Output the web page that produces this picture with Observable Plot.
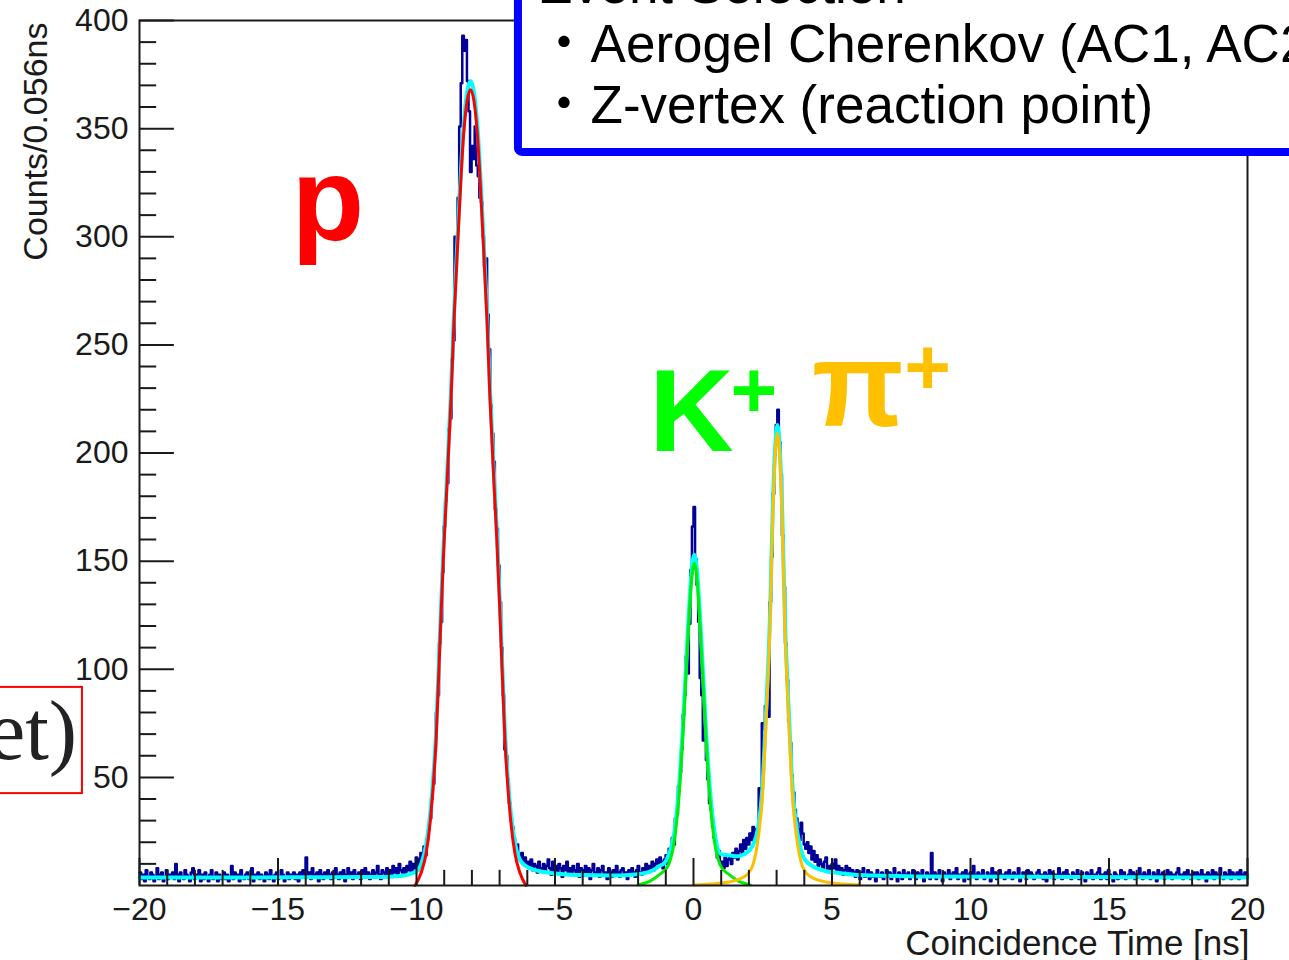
<!DOCTYPE html>
<html>
<head>
<meta charset="utf-8">
<script src="https://cdn.jsdelivr.net/npm/d3@7"></script>
<script src="https://cdn.jsdelivr.net/npm/@observablehq/plot@0.6"></script>
<style>
html, body { margin: 0; padding: 0; background: #fff; overflow: hidden; }
#chart svg { display: block; }
</style>
</head>
<body>
<div id="chart"></div>
<script>
// ---------------- data ----------------
const xRange = [-20, 20];
const yRange = [0, 400];

// histogram counts per 0.056 ns bin (714 bins from -20 to 20)
const bgLeft = [
  6, 3, 5, 2, 7, 4, 3, 6, 5, 2, 4, 8, 3, 5, 6, 2, 4, 7, 3, 5,
  4, 6, 3, 10, 5, 2, 6, 4, 3, 7, 5, 4, 2, 6, 8, 3, 5, 4, 7, 2,
  5, 3, 6, 4, 2, 5, 7, 3, 4, 6, 2, 5, 3, 4, 6, 3, 5, 2, 4, 9,
  3, 6, 4, 5, 2, 7, 4, 3, 5, 6, 3, 4, 8, 2, 5, 4, 6, 3, 5, 4,
  2, 6, 5, 3, 7, 4, 2, 5, 6, 3, 4, 7, 5, 2, 4, 6, 3, 5, 4, 6,
  3, 5, 2, 6, 4, 7, 5, 13, 4, 6, 3, 8, 5, 4, 6, 2, 7, 5, 3, 6,
  4, 7, 5, 3, 6, 4, 8, 5, 3, 6, 4, 7, 2, 5, 8, 4, 6, 3, 7, 5,
  4, 6, 3, 7, 5, 8, 4, 6, 3, 5, 7, 4, 6, 9, 5, 3, 7, 6, 4, 8,
  5, 7, 4, 9, 6, 8, 5, 10, 7, 6
];
const protonPeak = [
  8, 5, 9, 7, 11, 6, 10, 8, 13, 7,
  12, 15, 11, 18, 14, 21, 26, 31, 40, 47,
  62, 80, 88, 112, 122, 145, 166, 178, 186, 211,
  216, 243, 252, 300, 296, 318, 351, 371, 393, 386,
  391, 372, 358, 330, 342, 336, 351, 333, 328, 318,
  316, 300, 286, 290, 264, 248, 222, 209, 196, 174,
  165, 148, 131, 110, 88, 63, 60, 49, 38, 31,
  27, 22, 17, 19, 14, 12, 15, 10, 13, 9,
  11, 8, 12, 7, 10, 9, 6, 11, 8
];
const bgMiddle = [
  7, 10, 6, 9, 12, 8, 5, 11, 7, 9, 6, 10, 8, 4, 9, 7, 11, 6, 8, 5,
  9, 7, 6, 10, 4, 8, 7, 5, 9, 6, 8, 3, 7, 10, 5, 6, 8, 4, 7, 9,
  5, 6, 3, 8, 6, 4, 7, 5, 9, 6, 4, 7, 8, 5, 6, 3, 7, 5, 8, 6,
  4, 7, 9, 6, 5, 8, 7, 10, 6, 9, 8, 11, 7, 10, 12, 9, 13
];
const kaonPeak = [
  11, 8, 12, 14, 10, 17, 15, 22, 19, 31,
  33, 46, 52, 63, 79, 88, 106, 98, 121, 146,
  166, 175, 151, 139, 122, 96, 88, 67, 71, 58,
  49, 38, 35, 27, 22, 18, 13, 16, 10
];
const gapKPi = [11, 8, 13, 9, 12, 14, 10, 15, 13, 17, 12, 16, 19, 15, 21, 17, 22, 19, 24, 21, 27];
const pionPeak = [
  21, 26, 24, 45, 41, 75, 72, 83, 86, 78,
  131, 152, 181, 199, 213, 220, 205, 190, 162, 138,
  112, 95, 76, 66, 51, 43, 35, 31, 26, 21,
  29, 24, 19
];
const pionTail = [17, 20, 15, 18, 12, 16, 11, 14, 9, 12, 10, 8, 11, 13, 7, 9, 6, 10, 8, 12, 7, 9, 6, 8, 5, 7, 9, 6, 8, 5, 7];
const bgRight = [
  6, 4, 7, 5, 3, 6, 8, 4, 5, 7, 3, 6, 4, 5, 2, 7, 5, 4, 6, 3,
  5, 7, 4, 6, 3, 5, 8, 4, 2, 6, 5, 3, 7, 4, 5, 6, 3, 4, 7, 5,
  3, 6, 4, 5, 7, 2, 4, 6, 5, 3, 15, 4, 6, 3, 5, 7, 4, 2, 6, 5,
  4, 7, 3, 5, 6, 4, 8, 3, 5, 4, 6, 2, 7, 5, 3, 6, 4, 9, 5, 3,
  6, 4, 5, 7, 3, 4, 6, 5, 2, 8, 4, 6, 3, 5, 7, 4, 5, 3, 6, 4,
  7, 5, 3, 6, 4, 5, 8, 2, 4, 6, 5, 3, 7, 4, 6, 5, 3, 4, 6, 7,
  4, 5, 3, 6, 2, 5, 7, 4, 6, 3, 5, 4, 8, 5, 3, 6, 4, 7, 5, 4,
  3, 6, 5, 4, 7, 3, 5, 6, 4, 2, 6, 5, 4, 7, 3, 5, 4, 6, 8, 3,
  5, 4, 6, 3, 7, 5, 4, 2, 6, 5, 3, 4, 7, 5, 6, 3, 4, 5, 7, 4,
  6, 3, 5, 4, 8, 5, 3, 6, 4, 5, 7, 3, 4, 6, 5, 2, 7, 4, 5, 6,
  3, 5, 7, 4, 6, 3, 5, 4, 6, 8, 4, 5, 3, 6, 4, 7, 5, 3, 5, 6,
  4, 6, 3, 5, 7, 4, 5, 2, 6, 4, 5, 7, 3, 6, 4, 5, 8, 4, 3, 6,
  5, 4, 7, 3, 6, 5, 4, 6, 3, 7, 5, 4, 6, 5
];

// fit curves, points
const protonFitX = [-10.05, -9.83, -9.65, -9.5, -9.29, -9.13, -9.0, -8.92, -8.75, -8.65, -8.5, -8.3, -8.05, -7.8, -7.6, -7.45, -7.35, -7.18, -7.1, -6.97, -6.81, -6.6, -6.45, -6.27, -6.05];
const protonFitY = [0, 6, 15, 30, 68, 120, 160, 180, 226, 260, 300, 347, 368, 347, 300, 260, 226, 180, 160, 120, 68, 30, 15, 6, 0];
const kaonFitX = [-2.0, -1.57, -1.23, -0.935, -0.655, -0.535, -0.38, -0.19, -0.07, 0.03, 0.13, 0.25, 0.44, 0.595, 0.715, 0.995, 1.29, 1.63, 2.05];
const kaonFitY = [0.3, 2, 5, 8.7, 24.3, 39.5, 70, 117, 141, 149, 141, 117, 70, 39.5, 24.3, 8.7, 5, 2, 0.3];
const pionFitX = [0.0, 1.23, 1.83, 2.12, 2.36, 2.48, 2.6, 2.765, 2.86, 2.95, 3.03, 3.11, 3.2, 3.295, 3.46, 3.58, 3.7, 3.94, 4.23, 4.83, 6.0];
const pionFitY = [0.2, 1.5, 4, 8.7, 24.3, 39.5, 70.5, 122, 170, 199, 209, 199, 170, 122, 70.5, 39.5, 24.3, 8.7, 4, 1.5, 0.2];
const totalFitX = [-20, -17, -14, -12, -11, -10.5, -10.2, -10.0, -9.83, -9.65, -9.5, -9.29, -9.13, -9.0, -8.92, -8.75, -8.65, -8.5, -8.3, -8.05, -7.8, -7.6, -7.45, -7.35, -7.18, -7.1, -6.97, -6.81, -6.6, -6.45, -6.27, -6.05, -5.8, -5.5, -5.0, -4.0, -3.0, -2.2, -1.57, -1.23, -1.05, -0.935, -0.655, -0.535, -0.38, -0.19, -0.07, 0.03, 0.13, 0.25, 0.44, 0.595, 0.715, 0.995, 1.29, 1.6, 1.83, 2.12, 2.36, 2.48, 2.6, 2.765, 2.86, 2.95, 3.03, 3.11, 3.2, 3.295, 3.46, 3.58, 3.7, 3.94, 4.05, 4.23, 4.83, 5.25, 6.0, 8.0, 12.0, 16.0, 20.0];
const totalFitY = [3.7, 3.7, 3.8, 3.9, 4.1, 4.5, 5.5, 6.5, 10, 19, 34, 72, 124, 164, 184, 230, 264, 304, 351, 372, 351, 304, 264, 230, 184, 164, 124, 72, 34, 20, 12, 9, 7.5, 6.5, 5.6, 4.8, 4.6, 5.0, 6.4, 9, 10.4, 13, 28, 43.5, 74, 121, 145, 153, 145, 121, 74.5, 44, 29, 14.5, 14, 13.5, 14.5, 18, 29, 44, 75, 126, 174, 203, 213, 203, 174, 126, 75, 44, 29, 14, 11.5, 9.5, 6.5, 5.8, 4.8, 4.2, 4.0, 3.8, 3.7];

// axis ticks and labels
const xMajorTicks = [-20, -15, -10, -5, 0, 5, 10, 15, 20];
const xMinorTicks = d3.range(-19, 20).filter(v => v % 5 !== 0);
const yMajorTicks = [50, 100, 150, 200, 250, 300, 350, 400];
const yMinorTicks = d3.range(10, 400, 10).filter(v => v % 50 !== 0);
const xTitle = "Coincidence Time [ns]";
const yTitle = "Counts/0.056ns";
const boxLines = ["Event Selection", "\u30FBAerogel Cherenkov (AC1, AC2)", "\u30FBZ-vertex (reaction point)"];

// ---------------- build ----------------
const counts = [].concat(bgLeft, protonPeak, bgMiddle, kaonPeak, gapKPi, pionPeak, pionTail, bgRight);
const binW = (xRange[1] - xRange[0]) / counts.length;
const histPts = counts.map((c, i) => ({x: xRange[0] + i * binW, y: c}));
histPts.push({x: xRange[1], y: counts[counts.length - 1]});
const pts = (X, Y) => X.map((x, i) => ({x, y: Y[i]}));

const FONT = "'Liberation Sans', Arial, Helvetica, 'Noto Sans CJK JP', sans-serif";
const fmt = d => d < 0 ? "\u2212" + (-d) : String(d);
const AX = "#1a1a1a";

const chart = Plot.plot({
  width: 1289,
  height: 960,
  marginLeft: 139,
  marginRight: 42,
  marginTop: 20,
  marginBottom: 75,
  x: {domain: xRange, axis: null},
  y: {domain: yRange, axis: null},
  style: {fontFamily: FONT, background: "white", color: "black"},
  marks: [
    // left red box fragment
    Plot.rect([0], {x1: -30, x2: -22.06, y1: 42.5, y2: 91.6, fill: "none", stroke: "#ff0000", strokeWidth: 2}),
    Plot.text(["et)"], {x: -22.25, y: 58.7, text: d => d, textAnchor: "end", lineAnchor: "bottom", fontSize: 85, fontFamily: "'Liberation Serif', 'DejaVu Serif', serif", fill: "#222"}),
    // histogram
    Plot.line(histPts, {x: "x", y: "y", curve: "step-after", stroke: "#000099", strokeWidth: 2.5}),
    // fits
    Plot.line(pts(totalFitX, totalFitY), {x: "x", y: "y", curve: "monotone-x", stroke: "#00ffff", strokeWidth: 4}),
    Plot.line(pts(protonFitX, protonFitY), {x: "x", y: "y", curve: "monotone-x", stroke: "#ff0000", strokeWidth: 3}),
    Plot.line(pts(kaonFitX, kaonFitY), {x: "x", y: "y", curve: "monotone-x", stroke: "#00ee00", strokeWidth: 3}),
    Plot.line(pts(pionFitX, pionFitY), {x: "x", y: "y", curve: "monotone-x", stroke: "#ffbf00", strokeWidth: 3}),
    // frame and ticks
    Plot.frame({stroke: AX, strokeWidth: 2}),
    Plot.ruleX(xMajorTicks, {x: d => d, y1: 0, y2: 12.5, stroke: AX, strokeWidth: 2}),
    Plot.ruleX(xMinorTicks, {x: d => d, y1: 0, y2: 7, stroke: AX, strokeWidth: 2}),
    Plot.ruleY(yMajorTicks, {y: d => d, x1: -20, x2: -18.74, stroke: AX, strokeWidth: 2}),
    Plot.ruleY(yMinorTicks, {y: d => d, x1: -20, x2: -19.38, stroke: AX, strokeWidth: 2}),
    Plot.text(xMajorTicks, {x: d => d, y: 0, text: fmt, lineAnchor: "bottom", dy: 34, fontSize: 32, fill: AX}),
    Plot.text(yMajorTicks, {x: -20, y: d => d, text: fmt, textAnchor: "end", dx: -11, fontSize: 32, fill: AX}),
    Plot.text([xTitle], {frameAnchor: "bottom-right", text: d => d, textAnchor: "end", lineAnchor: "bottom", dx: 2, dy: 69, fontSize: 35, fill: AX}),
    Plot.text([yTitle], {frameAnchor: "top-left", text: d => d, rotate: -90, textAnchor: "end", lineAnchor: "bottom", dx: -93, dy: 2, fontSize: 34, fill: AX}),
    // particle labels
    Plot.text(["p"], {x: -13.2, y: 298.3, text: d => d, lineAnchor: "bottom", fontSize: 119, fontWeight: "bold", fill: "#ff0000"}),
    Plot.text(["K"], {x: -0.07, y: 200.7, text: d => d, lineAnchor: "bottom", fontSize: 117, fontWeight: "bold", fill: "#00ff00"}),
    Plot.text(["+"], {x: 2.18, y: 230.1, text: d => d, dy: 3, fontSize: 80, fontWeight: "bold", fill: "#00ff00"}),
    Plot.text(["\u03C0"], {x: 5.94, y: 212.7, text: d => d, lineAnchor: "bottom", fontSize: 120, fontWeight: "bold", fill: "#ffc000"}),
    Plot.text(["+"], {x: 8.45, y: 240.7, text: d => d, dy: 3, fontSize: 80, fontWeight: "bold", fill: "#ffc000"}),
    // event selection box
    Plot.rect([0], {x1: -6.32, x2: 30, y1: 339, y2: 470, fill: "white", stroke: "#0000ff", strokeWidth: 8, rx: 4}),
    Plot.text([boxLines[0]], {x: -5.63, y: 407.9, text: d => d, textAnchor: "start", lineAnchor: "bottom", fontSize: 53, fill: "black"}),
    Plot.text([boxLines[1]], {x: -5.63, y: 380.6, text: d => d, textAnchor: "start", lineAnchor: "bottom", fontSize: 53, fill: "black"}),
    Plot.text([boxLines[2]], {x: -5.63, y: 352.8, text: d => d, textAnchor: "start", lineAnchor: "bottom", fontSize: 53, fill: "black"})
  ]
});
document.getElementById("chart").appendChild(chart);
</script>
</body>
</html>
